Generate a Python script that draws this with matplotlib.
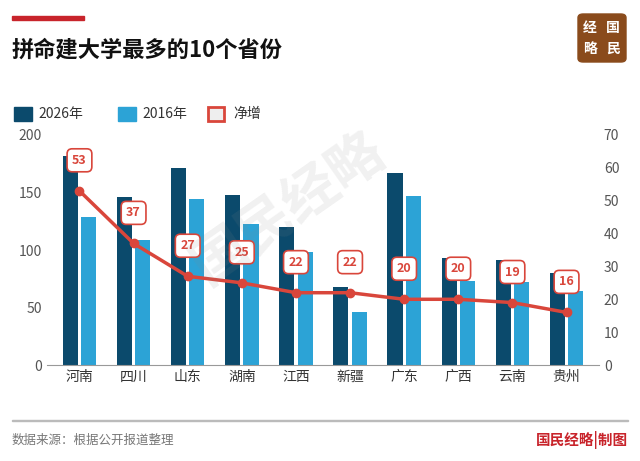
import matplotlib
matplotlib.use("Agg")
import matplotlib.pyplot as plt
import numpy as np
from matplotlib.patches import Rectangle, FancyBboxPatch

plt.rcParams['font.family'] = ['Noto Sans CJK SC', 'DejaVu Sans']

provinces = ["河南","四川","山东","湖南","江西","新疆","广东","广西","云南","贵州"]
y2026 = [182,146,171,148,120,68,167,93,91,80]
y2016 = [129,109,144,123,98,46,147,73,72,64]
net = [53,37,27,25,22,22,20,20,19,16]

dark = "#0b4a6c"; light = "#2ca3d6"; red = "#d9463b"
fig = plt.figure(figsize=(6.4,4.61), dpi=100)
W,H = 640,461
def fx(x): return x/W
def fy(y): return 1-y/H

fig.add_artist(Rectangle((fx(12),fy(20)),fx(72),4/H,color="#c8242b",transform=fig.transFigure))
fig.text(fx(12),fy(50),"拼命建大学最多的10个省份",fontsize=16,fontweight='bold',va='center',color="#111")
fig.add_artist(FancyBboxPatch((fx(578),fy(62)),fx(48),48/H,boxstyle="round,pad=0,rounding_size=0.008",color="#8a4b1c",transform=fig.transFigure))
for t,x,y in [("经",590,28),("国",613,28),("略",590,49),("民",613,49)]:
    fig.text(fx(x),fy(y),t,color="white",fontsize=10,ha='center',va='center',fontweight='bold')

ax = fig.add_axes([fx(47),fy(365),fx(552),230/H])
x = np.arange(len(provinces)); w=0.28
ax.bar(x-w/2-0.03,y2026,w,color=dark,label="2026年",zorder=2)
ax.bar(x+w/2+0.03,y2016,w,color=light,label="2016年",zorder=2)
ax.set_ylim(0,200); ax.set_yticks([0,50,100,150,200])
ax.set_xlim(-0.6,9.6)
ax.set_xticks(x); ax.set_xticklabels(provinces,fontsize=10,color="#333")
for s in ['top','right','left']: ax.spines[s].set_visible(False)
ax.spines['bottom'].set_color("#999")
ax.tick_params(axis='y',length=0,labelsize=10,labelcolor="#555")
ax.tick_params(axis='x',length=0)
ax2 = ax.twinx()
ax2.set_ylim(0,70); ax2.set_yticks(range(0,71,10))
for s in ax2.spines.values(): s.set_visible(False)
ax2.tick_params(axis='y',length=0,labelsize=10,labelcolor="#555")
ax2.plot(x,net,color=red,lw=2.5,marker='o',ms=6,zorder=3)
for xi,n in zip(x,net):
    ax2.annotate(str(n),(xi,n),xytext=(0,22),textcoords='offset points',ha='center',va='center',
                 fontsize=9,fontweight='bold',color=red,
                 bbox=dict(boxstyle="round,pad=0.4",fc="white",ec=red,lw=1.2))
fig.text(0.45,0.55,"国民经略",fontsize=40,color="#888",alpha=0.12,rotation=35,ha='center',va='center',fontweight='bold')

fig.add_artist(Rectangle((fx(14),fy(121)),fx(18),14/H,color=dark,transform=fig.transFigure))
fig.text(fx(38),fy(114),"2026年",fontsize=10,va='center',color="#333")
fig.add_artist(Rectangle((fx(118),fy(121)),fx(18),14/H,color=light,transform=fig.transFigure))
fig.text(fx(142),fy(114),"2016年",fontsize=10,va='center',color="#333")
fig.add_artist(Rectangle((fx(208),fy(121)),fx(16),14/H,fc="#eee",ec=red,lw=2,transform=fig.transFigure))
fig.text(fx(233),fy(114),"净增",fontsize=10,va='center',color="#333")

fig.add_artist(Rectangle((fx(12),fy(421)),fx(616),1/H,color="#bbb",transform=fig.transFigure))
fig.text(fx(12),fy(440),"数据来源：根据公开报道整理",fontsize=9,color="#777",va='center')
fig.text(fx(628),fy(440),"国民经略|制图",fontsize=10.5,color="#c8242b",va='center',ha='right',fontweight='bold')
fig.savefig("out.png",dpi=100)
